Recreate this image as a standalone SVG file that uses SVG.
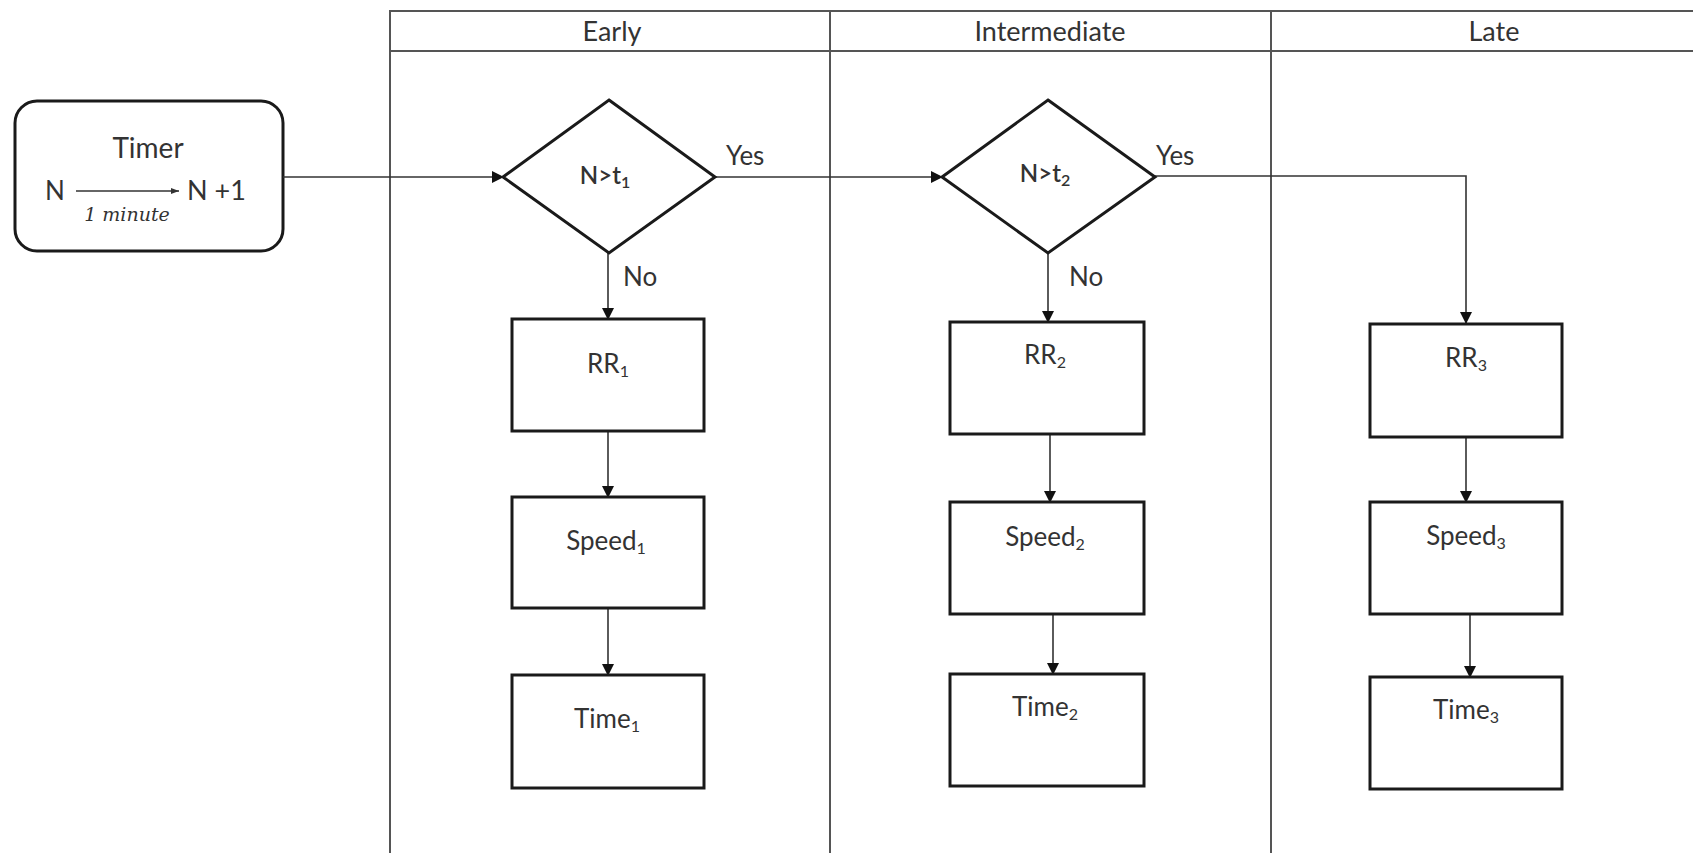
<svg xmlns="http://www.w3.org/2000/svg" width="1693" height="853" viewBox="0 0 1693 853">
<style>
.lane{fill:none;stroke:#555;stroke-width:2}
.box{fill:#fff;stroke:#1a1a1a;stroke-width:3}
.conn{fill:none;stroke:#333;stroke-width:1.6}
text{font-family:Lato,"Open Sans","Liberation Sans",sans-serif;fill:#333;font-size:26px}
.c{text-anchor:middle}
.h{font-size:27px}
.sub{font-size:16px}
.it{font-family:"DejaVu Serif",serif;font-style:italic;font-size:19px}
</style>
<defs>
<marker id="ah" markerWidth="12" markerHeight="12" refX="11" refY="6" orient="auto" markerUnits="userSpaceOnUse">
<path d="M0,0 L12,6 L0,12 Z" fill="#111"/>
</marker>
<marker id="ahs" markerWidth="8" markerHeight="8" refX="8" refY="4" orient="auto" markerUnits="userSpaceOnUse">
<path d="M0,1 L8,4 L0,7 Z" fill="#333"/>
</marker>
</defs>
<rect width="1693" height="853" fill="#fff"/>
<g id="pool">
<path class="lane" d="M1693,11 H390 V853 M390,51 H1693 M830,11 V853 M1271,11 V853"/>
<text class="c h" x="612" y="41">Early</text>
<text class="c h" x="1050" y="41">Intermediate</text>
<text class="c h" x="1494" y="41">Late</text>
</g>
<g id="timer">
<rect class="box" x="15" y="101" width="268" height="150" rx="22"/>
<text class="c" x="148" y="158" style="font-size:28px">Timer</text>
<text x="45" y="200">N</text>
<line x1="76" y1="191" x2="179" y2="191" stroke="#333" stroke-width="1.5" marker-end="url(#ahs)"/>
<text x="187" y="200" style="font-size:27px">N +1</text>
<text class="it c" x="127" y="221">1 minute</text>
</g>
<g id="connectors">
<path class="conn" d="M283,177 H503" marker-end="url(#ah)"/>
<path class="conn" d="M715,177 H942" marker-end="url(#ah)"/>
<path class="conn" d="M1155,176 H1466 V323" marker-end="url(#ah)"/>
<path class="conn" d="M608,253 V319" marker-end="url(#ah)"/>
<path class="conn" d="M608,431 V497" marker-end="url(#ah)"/>
<path class="conn" d="M608,608 V675" marker-end="url(#ah)"/>
<path class="conn" d="M1048,253 V322" marker-end="url(#ah)"/>
<path class="conn" d="M1050,434 V502" marker-end="url(#ah)"/>
<path class="conn" d="M1053,614 V674" marker-end="url(#ah)"/>
<path class="conn" d="M1466,437 V502" marker-end="url(#ah)"/>
<path class="conn" d="M1470,614 V677" marker-end="url(#ah)"/>
<text x="726" y="165">Yes</text>
<text x="1156" y="165">Yes</text>
<text x="623" y="286">No</text>
<text x="1069" y="286">No</text>
</g>
<g id="d1">
<polygon class="box" points="609,100 715,177 609,253 503,177"/>
<text class="c" x="605" y="184" style="font-weight:600;font-size:24px">N&gt;t<tspan class="sub" dy="4">1</tspan></text>
</g>
<g id="d2">
<polygon class="box" points="1048,100 1155,177 1048,253 942,177"/>
<text class="c" x="1045" y="182" style="font-weight:600;font-size:24px">N&gt;t<tspan class="sub" dy="4">2</tspan></text>
</g>
<g id="rr1"><rect class="box" x="512" y="319" width="192" height="112"/><text class="c" x="608" y="373">RR<tspan class="sub" dy="4">1</tspan></text></g>
<g id="speed1"><rect class="box" x="512" y="497" width="192" height="111"/><text class="c" x="606" y="550">Speed<tspan class="sub" dy="4">1</tspan></text></g>
<g id="time1"><rect class="box" x="512" y="675" width="192" height="113"/><text class="c" x="607" y="728">Time<tspan class="sub" dy="4">1</tspan></text></g>
<g id="rr2"><rect class="box" x="950" y="322" width="194" height="112"/><text class="c" x="1045" y="364">RR<tspan class="sub" dy="4">2</tspan></text></g>
<g id="speed2"><rect class="box" x="950" y="502" width="194" height="112"/><text class="c" x="1045" y="546">Speed<tspan class="sub" dy="4">2</tspan></text></g>
<g id="time2"><rect class="box" x="950" y="674" width="194" height="112"/><text class="c" x="1045" y="716">Time<tspan class="sub" dy="4">2</tspan></text></g>
<g id="rr3"><rect class="box" x="1370" y="324" width="192" height="113"/><text class="c" x="1466" y="367">RR<tspan class="sub" dy="4">3</tspan></text></g>
<g id="speed3"><rect class="box" x="1370" y="502" width="192" height="112"/><text class="c" x="1466" y="545">Speed<tspan class="sub" dy="4">3</tspan></text></g>
<g id="time3"><rect class="box" x="1370" y="677" width="192" height="112"/><text class="c" x="1466" y="719">Time<tspan class="sub" dy="4">3</tspan></text></g>
</svg>
